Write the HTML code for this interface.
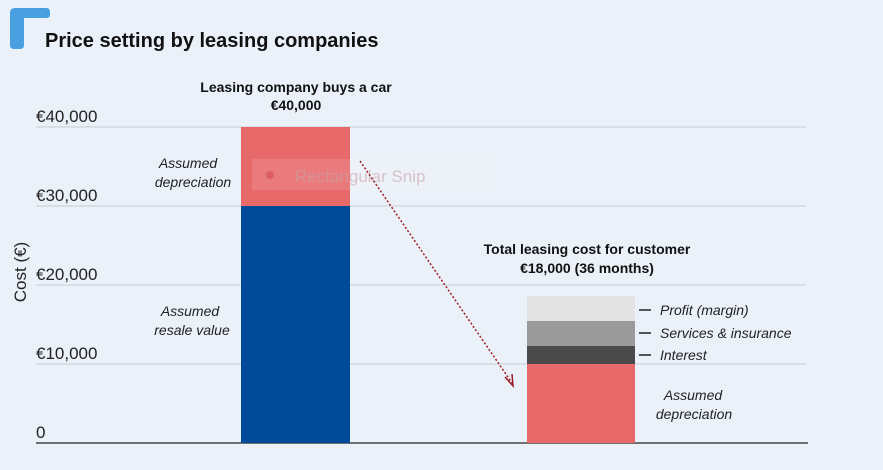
<!DOCTYPE html>
<html><head><style>
body{margin:0;width:883px;height:465px;background:#ebf1f9;font-family:"Liberation Sans",sans-serif;overflow:hidden}
</style></head><body>
<svg width="883" height="465" xmlns="http://www.w3.org/2000/svg" font-family="Liberation Sans, sans-serif">
<path d="M10 13 Q10 8 15 8 L46 8 Q50 8 50 12 L50 15 Q50 18 46 18 L24 18 L24 45 Q24 49 20 49 L14 49 Q10 49 10 45 Z" fill="#4a9fe0"/>
<text x="45" y="47" font-size="20" font-weight="bold" fill="#111">Price setting by leasing companies</text>
<g stroke="#c8ccd2" stroke-width="1">
<line x1="36" y1="127" x2="806" y2="127"/><line x1="36" y1="206" x2="806" y2="206"/>
<line x1="36" y1="285" x2="806" y2="285"/><line x1="36" y1="364" x2="806" y2="364"/>
</g>
<line x1="36" y1="443" x2="808" y2="443" stroke="#444" stroke-width="1.5"/>
<g font-size="17" fill="#222">
<text x="36" y="122">€40,000</text><text x="36" y="201">€30,000</text>
<text x="36" y="280">€20,000</text><text x="36" y="359">€10,000</text><text x="36" y="438">0</text>
</g>
<text transform="translate(26,272) rotate(-90)" font-size="17" fill="#222" text-anchor="middle">Cost (€)</text>
<rect x="241" y="127" width="109" height="79" fill="#e8696a"/>
<rect x="241" y="206" width="109" height="237" fill="#004a98"/>
<rect x="252" y="159" width="237" height="31" fill="#ffffff" fill-opacity="0.12"/>
<circle cx="270" cy="175" r="4" fill="#d04048" fill-opacity="0.5"/>
<text x="295" y="182" font-size="17" fill="#c9a0a8" fill-opacity="0.6">Rectangular Snip</text>
<rect x="527" y="296" width="108" height="25" fill="#e4e4e4"/>
<rect x="527" y="321" width="108" height="25" fill="#9a9a9a"/>
<rect x="527" y="346" width="108" height="18" fill="#4a4a4a"/>
<rect x="527" y="364" width="108" height="79" fill="#e8696a"/>
<g font-size="14" font-weight="bold" fill="#111" text-anchor="middle">
<text x="296" y="92">Leasing company buys a car</text><text x="296" y="110">€40,000</text>
<text x="587" y="254">Total leasing cost for customer</text><text x="587" y="273">€18,000 (36 months)</text>
</g>
<g font-size="14" font-style="italic" fill="#222" text-anchor="middle">
<text x="188" y="168">Assumed</text><text x="193" y="187">depreciation</text>
<text x="190" y="316">Assumed</text><text x="192" y="335">resale value</text>
<text x="693" y="400">Assumed</text><text x="694" y="419">depreciation</text>
</g>
<g font-size="14" font-style="italic" fill="#222">
<text x="660" y="315">Profit (margin)</text><text x="660" y="338">Services &amp; insurance</text><text x="660" y="360">Interest</text>
</g>
<g stroke="#222" stroke-width="1.5">
<line x1="639" y1="310" x2="651" y2="310"/><line x1="639" y1="333" x2="651" y2="333"/><line x1="639" y1="355" x2="651" y2="355"/>
</g>
<line x1="360" y1="161" x2="512" y2="383" stroke="#a01c24" stroke-width="1.5" stroke-dasharray="2,2"/>
<path d="M505 377 L513 386 L512 374" fill="none" stroke="#a01c24" stroke-width="1.5"/>
</svg>
</body></html>
